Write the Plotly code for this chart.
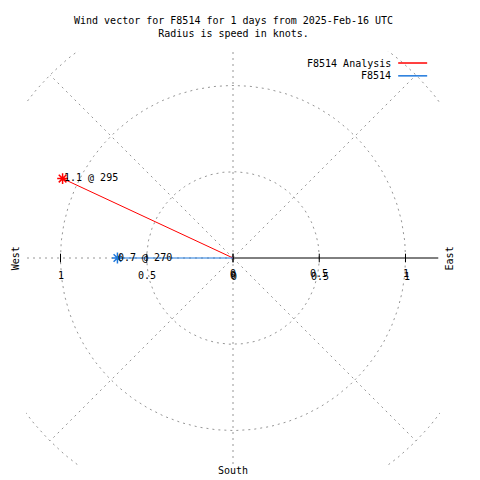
import numpy as np
import plotly.graph_objects as go

# ---- data ----
series_names = ["F8514 Analysis", "F8514"]
speeds = [1.09, 0.67]          # knots
directions = [295, 270]        # degrees (clockwise from north)
colors = ["rgb(255,0,0)", "rgb(30,120,220)"]
ring_radii = [0.5, 1.0, 1.5]
spoke_angles = [0, 45, 90, 135, 180, 225, 270, 315]
left_tick_vals = [-1.0, -0.5, 0.0]
left_tick_text = ["1", "0.5", "0"]
right_tick_vals = [0.0, 0.5, 1.0]
right_tick_text = ["0", "0.5", "1"]

FONT = "DejaVu Sans Mono"
GRID = "rgb(150,150,150)"
DASH = "2px,4px"
fig = go.Figure()

# rings
t = np.linspace(0, 2 * np.pi, 361)
for r in ring_radii:
    fig.add_trace(go.Scatter(x=r * np.cos(t), y=r * np.sin(t), mode="lines",
                             line=dict(color=GRID, width=1, dash=DASH),
                             hoverinfo="skip", showlegend=False))
# spokes
for a in spoke_angles:
    if a == 90:
        continue
    rad = np.deg2rad(a)
    fig.add_trace(go.Scatter(x=[0, 1.5 * np.sin(rad)], y=[0, 1.5 * np.cos(rad)], mode="lines",
                             line=dict(color=GRID, width=1, dash=DASH),
                             hoverinfo="skip", showlegend=False))
# east axis line (solid)
fig.add_trace(go.Scatter(x=[0, 1.19], y=[0, 0], mode="lines",
                         line=dict(color="black", width=1), hoverinfo="skip", showlegend=False))
# tick marks
for v in left_tick_vals + right_tick_vals:
    fig.add_trace(go.Scatter(x=[v, v], y=[-0.025, 0.025], mode="lines",
                             line=dict(color="black", width=1), hoverinfo="skip", showlegend=False))

# vectors
for name, s, d, c in zip(series_names, speeds, directions, colors):
    rad = np.deg2rad(d)
    xe, ye = s * np.sin(rad), s * np.cos(rad)
    fig.add_trace(go.Scatter(x=[0, xe], y=[0, ye], mode="lines", line=dict(color=c, width=1),
                             hoverinfo="skip", showlegend=False))
    fig.add_trace(go.Scatter(x=[xe], y=[ye], mode="markers",
                             marker=dict(symbol="asterisk-open", size=9, color=c,
                                         line=dict(color=c, width=1.5)),
                             hoverinfo="skip", showlegend=False))
    fig.add_annotation(x=xe, y=ye, xref="x", yref="y", text=f"{s:.1f} @ {d}", showarrow=False,
                       xanchor="left", yanchor="middle", xshift=-1, yshift=1,
                       font=dict(family=FONT, size=10, color="black"))

# tick labels
for v, txt in zip(left_tick_vals, left_tick_text):
    fig.add_annotation(x=v, y=0, xref="x", yref="y", text=txt, showarrow=False,
                       xanchor="center", yanchor="top", yshift=-10,
                       font=dict(family=FONT, size=10, color="black"))
for shift in [(0, -8), (1, -11)]:
    for v, txt in zip(right_tick_vals, right_tick_text):
        fig.add_annotation(x=v, y=0, xref="x", yref="y", text=txt, showarrow=False,
                           xanchor="center", yanchor="top", xshift=shift[0], yshift=shift[1],
                           font=dict(family=FONT, size=10, color="black"))

# title
fig.add_annotation(x=0.5, y=1.092, xref="paper", yref="paper",
                   text="Wind vector for F8514 for 1 days from 2025-Feb-16 UTC<br>Radius is speed in knots.",
                   showarrow=False, xanchor="center", yanchor="top", align="center",
                   font=dict(family=FONT, size=10, color="black"))
# compass labels
fig.add_annotation(x=-0.027, y=0.5, xref="paper", yref="paper", text="West", textangle=-90,
                   xshift=-7, showarrow=False, font=dict(family=FONT, size=10, color="black"))
fig.add_annotation(x=1.024, y=0.5, xref="paper", yref="paper", text="East", textangle=-90,
                   xshift=7, showarrow=False, font=dict(family=FONT, size=10, color="black"))
fig.add_annotation(x=0.5, y=-0.005, xref="paper", yref="paper", text="South", yshift=4,
                   showarrow=False, yanchor="top", font=dict(family=FONT, size=10, color="black"))

# legend (manual, line after text)
leg_y = [0.971, 0.940]
for name, c, yy in zip(series_names, colors, leg_y):
    fig.add_annotation(x=0.886, y=yy, xref="paper", yref="paper", text=name, showarrow=False,
                       xanchor="right", yanchor="middle",
                       font=dict(family=FONT, size=10, color="black"))
    fig.add_shape(type="line", xref="paper", yref="paper", x0=0.899, x1=0.969, y0=yy, y1=yy,
                  line=dict(color=c, width=1.5))

fig.update_xaxes(range=[-1.2, 1.2], visible=False, showgrid=False, zeroline=False)
fig.update_yaxes(range=[-1.2, 1.2], visible=False, showgrid=False, zeroline=False)
fig.update_layout(width=472, height=472, autosize=False,
                  margin=dict(l=18, r=40, t=43, b=15),
                  plot_bgcolor="white", paper_bgcolor="white", showlegend=False)
fig.write_html("out.html")
